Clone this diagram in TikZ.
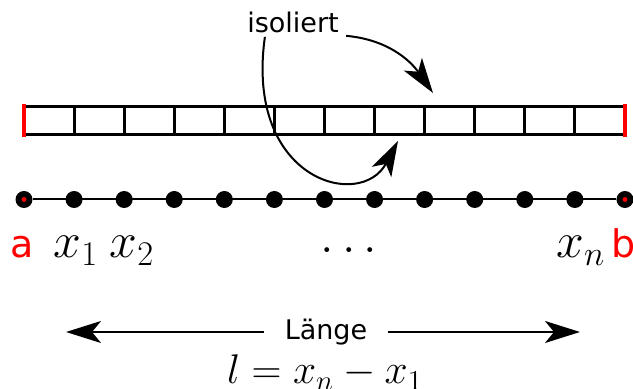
\documentclass[tikz,border=0pt]{standalone}
\usepackage{fontspec}
\newfontfamily\sansfont{DejaVu Sans}
\usetikzlibrary{arrows.meta,positioning}

\begin{document}
\begin{tikzpicture}[x=0.5pt, y=-0.5pt,
  bar/.style={line width=1.5pt},
  barend/.style={red, line width=2pt},
  gridpt/.style={circle, fill=black, inner sep=0pt, minimum size=8.5pt},
  arr/.style={-{Stealth[length=17.5pt, width=11pt, inset=4.5pt]}, line width=1pt},
  lbl/.style={font=\sansfont\fontsize{13.5}{16}\selectfont},
  ends/.style={red, anchor=base, font=\sansfont\fontsize{19}{22}\selectfont},
  xlbl/.style={anchor=base, font=\fontsize{23}{27}\selectfont}]
  \useasboundingbox (0,0) rectangle (633,389);
  % Stab mit Zellen
  \draw[bar] (24,106.5) rectangle (625,135);
  \foreach \i in {1,...,11}
    \draw[bar] ({24+\i*50.08},106.5) -- ({24+\i*50.08},135);
  \draw[barend] (24,104.5) -- (24,137);
  \draw[barend] (625,104.5) -- (625,137);
  % Gitterpunkte
  \foreach \i in {0,...,12}
    \node[gridpt] (p\i) at ({24+\i*50.08},199.5) {};
  \draw[line width=1pt] (p0) -- (p12);
  \fill[red] (p0) circle (1.2pt);
  \fill[red] (p12) circle (1.2pt);
  % Beschriftung
  \node[ends] (a) at (22,258) {a};
  \node[xlbl] (x1) at (76,258) {$x_1$};
  \node[xlbl] (x2) at (132,258) {$x_2$};
  \node[xlbl] (dots) at (349,253) {$\dots$};
  \node[xlbl] (xn) at (581,258) {$x_n$};
  \node[ends] (b) at (624,258) {b};
  % isoliert
  \node[lbl, inner sep=0pt] (iso) at (293,22) {isoliert};
  \coordinate (isoA) at ([shift={(3.5pt,-1.5pt)}]iso.south east);
  \coordinate (isoB) at ([shift={(9pt,-2pt)}]iso.south west);
  \coordinate (tipA) at (433,93);
  \coordinate (tipB) at (398,141);
  \draw[arr] (isoA) to[out=-5, in=125] (tipA);
  \draw[arr] (isoB) to[out=262, in=242, out looseness=2.2, in looseness=1.2] (tipB);
  % Laenge
  \node[lbl, fill=white, inner xsep=10pt] (len) at (326,332) {Länge};
  \coordinate (lenL) at (66,332);
  \coordinate (lenR) at (580,332);
  \draw[arr] (len) -- (lenL);
  \draw[arr] (len) -- (lenR);
  \node[xlbl, font=\fontsize{21.5}{26}\selectfont] (lform) at (325,384) {$l = x_n - x_1$};
\end{tikzpicture}
\end{document}
